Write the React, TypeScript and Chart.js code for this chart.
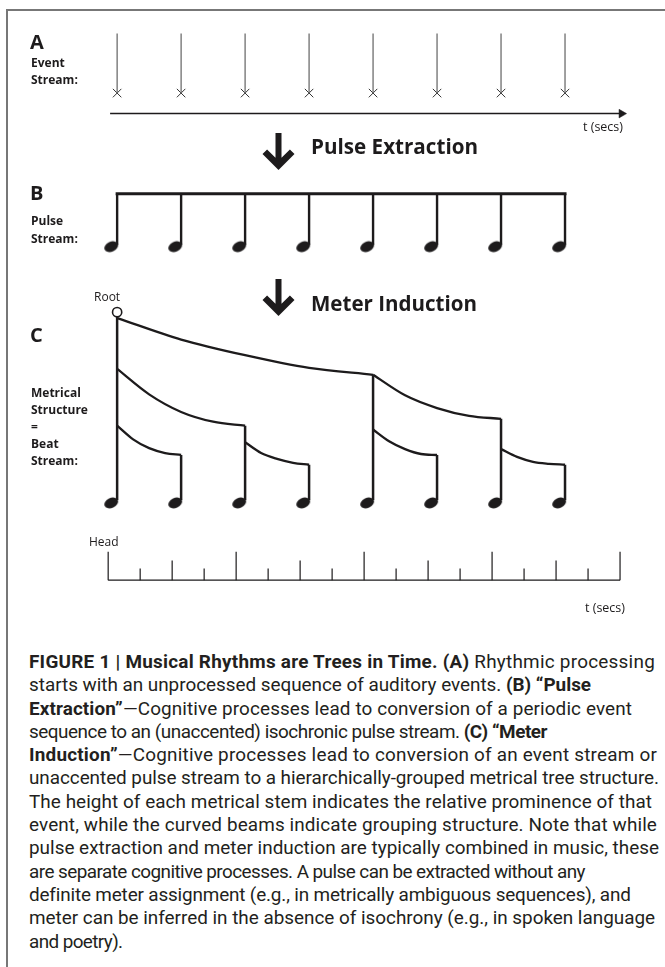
import React, { useEffect, useLayoutEffect, useRef } from "react";
import { Chart, registerables } from "chart.js";
Chart.register(...registerables);

// ---------- data ----------
const beats = [0, 1, 2, 3, 4, 5, 6, 7];
// panel C: top of each metrical stem (diagram units, 0 = top of page)
const stemTopsC = [317, 458, 428, 468, 376, 458, 421, 468];
// curved beams of the metrical tree: start beat, end beat, y at 0, 1/4, 1/2, 3/4, 1 of the span
const beamFrom = [0, 4, 0, 0, 2, 4, 6];
const beamTo = [4, 6, 2, 1, 3, 5, 7];
const beamRoot = [318, 340, 356, 369, 376];
const beamFive = [376, 397, 410, 418, 421];
const beamOneThree = [370, 396, 414, 424, 428];
const beamOneTwo = [428, 442, 451, 456, 458];
const beamThreeFour = [445, 456, 462, 466, 468];
const beamFiveSix = [432, 444, 452, 457, 458];
const beamSevenEight = [452, 460, 465, 467, 468];
const beamYs = [beamRoot, beamFive, beamOneThree, beamOneTwo, beamThreeFour, beamFiveSix, beamSevenEight];
const beamFractions = [0, 0.25, 0.5, 0.75, 1];
// panel C time axis: tick level (3 = tall, 2 = medium, 1 = short), every half beat
const tickLevels = [3, 1, 2, 1, 3, 1, 2, 1, 3, 1, 2, 1, 3, 1, 2, 1, 3];

// caption lines: [text, bold]
const captionLines: [string, boolean][][] = [
  [["FIGURE 1 | Musical Rhythms are Trees in Time. (A)", true], [" Rhythmic processing", false]],
  [["starts with an unprocessed sequence of auditory events. ", false], ["(B) \u201cPulse", true]],
  [["Extraction\u201d", true], ["\u2014Cognitive processes lead to conversion of a periodic event", false]],
  [["sequence to an (unaccented) isochronic pulse stream. ", false], ["(C) \u201cMeter", true]],
  [["Induction\u201d", true], ["\u2014Cognitive processes lead to conversion of an event stream or", false]],
  [["unaccented pulse stream to a hierarchically-grouped metrical tree structure.", false]],
  [["The height of each metrical stem indicates the relative prominence of that", false]],
  [["event, while the curved beams indicate grouping structure. Note that while", false]],
  [["pulse extraction and meter induction are typically combined in music, these", false]],
  [["are separate cognitive processes. A pulse can be extracted without any", false]],
  [["definite meter assignment (e.g., in metrically ambiguous sequences), and", false]],
  [["meter can be inferred in the absence of isochrony (e.g., in spoken language", false]],
  [["and poetry).", false]],
];
// right end of each caption line in the picture
const captionRight = [655, 591, 632, 547, 657, 659, 652, 657, 659, 585, 630, 655, 121];

// ---------- layout ----------
const W = 665;
const H = 640;
const PX_PER_BEAT = 65.36;
const FIRST_BEAT_PX = 112.5;
const X_MIN = -FIRST_BEAT_PX / PX_PER_BEAT;
const X_MAX = X_MIN + W / PX_PER_BEAT;
const CAPTION_LEFT = 29;

const L = {
  eventTop: 27,
  eventY: 88,
  axisAY: 109,
  axisAStart: -0.11,
  axisAEnd: 7.96,
  beamBY: 191,
  stemBBottom: 243,
  headBY: 245,
  stemCBottom: 504,
  headCY: 507,
  rootY: 312,
  tickAxisY: 586,
  tickStart: -0.14,
  tickStep: 0.5,
  headOffset: 0.092,
};
const tickLen: Record<number, number> = { 1: 12, 2: 20, 3: 29 };

const INK = "#1d1b1c";
const FONT = '"Open Sans", "DejaVu Sans", sans-serif';

function segments(xs: number[], y1: (i: number) => number, y2: number) {
  const out: { x: number; y: number | null }[] = [];
  xs.forEach((x, i) => {
    out.push({ x, y: y1(i) }, { x, y: y2 }, { x, y: null });
  });
  return out;
}

function makeNotehead() {
  const c = document.createElement("canvas");
  c.width = 18;
  c.height = 14;
  const g = c.getContext("2d")!;
  g.translate(9, 7);
  g.rotate((-25 * Math.PI) / 180);
  g.beginPath();
  g.ellipse(0, 0, 7.2, 5, 0, 0, Math.PI * 2);
  g.fillStyle = INK;
  g.fill();
  return c;
}

function drawBigArrow(ctx: CanvasRenderingContext2D, cx: number, top: number, tip: number) {
  const s = 3; // half stem width
  const w = 16; // half head width
  const d = 6.5; // arm thickness
  const r2 = Math.SQRT2;
  ctx.save();
  ctx.translate(cx, tip);
  ctx.beginPath();
  const Hh = tip - top;
  ctx.moveTo(-s, -Hh);
  ctx.lineTo(s, -Hh);
  ctx.lineTo(s, -s - d * r2);
  ctx.lineTo(w - d / r2, -w - d / r2);
  ctx.lineTo(w, -w);
  ctx.lineTo(0, 0);
  ctx.lineTo(-w, -w);
  ctx.lineTo(-(w - d / r2), -w - d / r2);
  ctx.lineTo(-s, -s - d * r2);
  ctx.closePath();
  ctx.fillStyle = INK;
  ctx.fill();
  ctx.restore();
}

const textPlugin = {
  id: "diagramText",
  afterDatasetsDraw(chart: any) {
    const ctx: CanvasRenderingContext2D = chart.ctx;
    ctx.save();
    ctx.fillStyle = INK;
    ctx.textBaseline = "alphabetic";
    const t = (s: string, x: number, y: number, font: string, align: CanvasTextAlign = "left", maxW?: number) => {
      ctx.font = font;
      ctx.textAlign = align;
      if (maxW) ctx.fillText(s, x, y, maxW);
      else ctx.fillText(s, x, y);
    };
    // panel A
    t("A", 30, 49, `bold 20px ${FONT}`);
    t("Event", 31, 67, `bold 12px ${FONT}`);
    t("Stream:", 31, 84, `bold 12px ${FONT}`);
    t("t (secs)", 623, 131, `12.5px ${FONT}`, "right");
    // arrow 1
    drawBigArrow(ctx, 278.5, 133, 170);
    t("Pulse Extraction", 311, 154, `bold 22px ${FONT}`, "left", 167);
    // panel B
    t("B", 30, 200, `bold 20px ${FONT}`);
    t("Pulse", 31, 225, `bold 12px ${FONT}`);
    t("Stream:", 31, 243, `bold 12px ${FONT}`);
    // arrow 2
    drawBigArrow(ctx, 278.5, 279, 316);
    t("Meter Induction", 311, 311, `bold 22px ${FONT}`, "left", 166);
    // panel C
    t("Root", 94, 301, `12px ${FONT}`);
    t("C", 30, 342, `bold 20px ${FONT}`);
    t("Metrical", 31, 397, `bold 12px ${FONT}`);
    t("Structure", 31, 414, `bold 12px ${FONT}`);
    t("=", 31, 431, `bold 12px ${FONT}`);
    t("Beat", 31, 448, `bold 12px ${FONT}`);
    t("Stream:", 31, 465, `bold 12px ${FONT}`);
    t("Head", 89, 546, `12px ${FONT}`);
    t("t (secs)", 625, 612, `12.5px ${FONT}`, "right");
    ctx.restore();
  },
};

function Diagram() {
  const ref = useRef<HTMLCanvasElement | null>(null);
  useEffect(() => {
    if (!ref.current) return;
    const note = makeNotehead();
    const line = (data: any[], width: number, color = INK, extra: any = {}) => ({
      data,
      showLine: true,
      borderColor: color,
      borderWidth: width,
      pointRadius: 0,
      spanGaps: false,
      ...extra,
    });
    const beamSets = beamYs.map((ys, k) =>
      line(
        ys.map((y, j) => ({ x: beamFrom[k] + (beamTo[k] - beamFrom[k]) * beamFractions[j], y })),
        2.3,
        INK,
        { cubicInterpolationMode: "monotone" }
      )
    );
    const datasets: any[] = [
      // root circle (first = drawn on top)
      {
        data: [{ x: 0, y: L.rootY }],
        pointStyle: "circle",
        pointRadius: 4.6,
        borderWidth: 1.6,
        borderColor: INK,
        backgroundColor: "#ffffff",
        showLine: false,
      },
      // panel A event lines
      line(segments(beats, () => L.eventTop, L.eventY), 1.3, "#6e6e6e"),
      {
        data: beats.map((b) => ({ x: b, y: L.eventY })),
        pointStyle: "crossRot",
        pointRadius: 6,
        borderWidth: 1,
        borderColor: "#333333",
        showLine: false,
      },
      line([{ x: L.axisAStart, y: L.axisAY }, { x: L.axisAEnd - 0.08, y: L.axisAY }], 1.5),
      {
        data: [{ x: L.axisAEnd - 5 / PX_PER_BEAT, y: L.axisAY }],
        pointStyle: "triangle",
        pointRotation: 90,
        pointRadius: 5,
        backgroundColor: INK,
        borderColor: INK,
        borderWidth: 0.5,
        showLine: false,
      },
      // panel B
      line([{ x: beats[0], y: L.beamBY }, { x: beats[beats.length - 1], y: L.beamBY }], 3, INK, {
        borderCapStyle: "square",
      }),
      line(segments(beats, () => L.beamBY, L.stemBBottom), 2.4),
      {
        data: beats.map((b) => ({ x: b - L.headOffset, y: L.headBY })),
        pointStyle: note,
        pointRadius: 6,
        showLine: false,
      },
      // panel C
      line(segments(beats, (i) => stemTopsC[i], L.stemCBottom), 2.5),
      ...beamSets,
      {
        data: beats.map((b) => ({ x: b - L.headOffset, y: L.headCY })),
        pointStyle: note,
        pointRadius: 6,
        showLine: false,
      },
      line(
        [
          { x: L.tickStart, y: L.tickAxisY },
          { x: L.tickStart + L.tickStep * (tickLevels.length - 1), y: L.tickAxisY },
        ],
        1.3
      ),
      line(
        segments(
          tickLevels.map((_, i) => L.tickStart + L.tickStep * i),
          (i) => L.tickAxisY - tickLen[tickLevels[i]],
          L.tickAxisY
        ),
        1.2
      ),
    ];
    const chart = new Chart(ref.current, {
      type: "scatter",
      data: { datasets },
      options: {
        animation: false,
        responsive: false,
        devicePixelRatio: 1,
        events: [],
        layout: { padding: 0 },
        plugins: { legend: { display: false }, tooltip: { enabled: false } },
        scales: {
          x: { type: "linear", min: X_MIN, max: X_MAX, display: false },
          y: { type: "linear", min: 0, max: H, reverse: true, display: false },
        },
      },
      plugins: [textPlugin],
    } as any);
    return () => chart.destroy();
  }, []);
  return <canvas ref={ref} width={W} height={H} style={{ position: "absolute", left: 0, top: 0 }} />;
}

function Caption() {
  const lineRefs = useRef<(HTMLSpanElement | null)[]>([]);
  useLayoutEffect(() => {
    lineRefs.current.forEach((el, i) => {
      if (!el) return;
      el.style.letterSpacing = "0px";
      const natural = el.getBoundingClientRect().width;
      const chars = (el.textContent || "").length;
      const target = captionRight[i] - CAPTION_LEFT;
      const ls = Math.max(-0.6, Math.min(0.6, (target - natural) / Math.max(1, chars)));
      el.style.letterSpacing = `${ls.toFixed(3)}px`;
    });
  }, []);
  return (
    <div
      style={{
        position: "absolute",
        left: CAPTION_LEFT,
        top: 650,
        fontFamily: "Roboto, 'Liberation Sans', sans-serif",
        fontSize: 18.9,
        lineHeight: "23.3px",
        color: "#231f20",
        whiteSpace: "nowrap",
      }}
    >
      {captionLines.map((segs, i) => (
        <div key={i}>
          <span
            ref={(el) => {
              lineRefs.current[i] = el;
            }}
            style={{ display: "inline-block" }}
          >
            {segs.map(([s, b], j) => (
              <span key={j} style={{ fontWeight: b ? 700 : 400 }}>
                {s}
              </span>
            ))}
          </span>
        </div>
      ))}
    </div>
  );
}

export default function App() {
  return (
    <div style={{ position: "absolute", left: 0, top: 0, width: 665, height: 967, background: "#fff", overflow: "hidden" }}>
      <div style={{ position: "absolute", left: 6, top: 9, width: 700, height: 1.6, background: "#777" }} />
      <div style={{ position: "absolute", left: 6, top: 9, width: 1.6, height: 1000, background: "#777" }} />
      <Diagram />
      <Caption />
    </div>
  );
}
